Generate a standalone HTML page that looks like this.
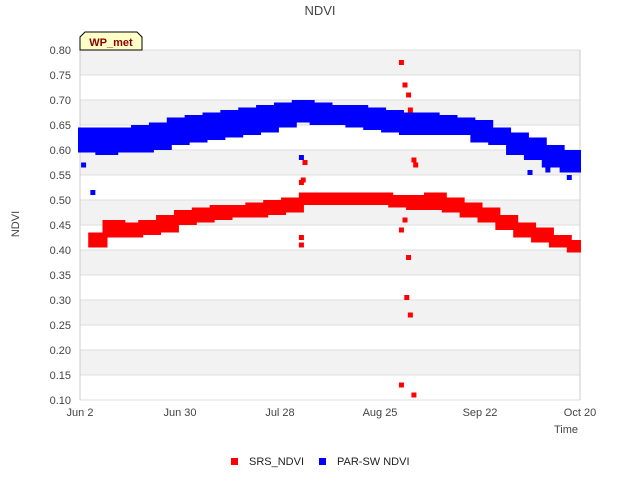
<!DOCTYPE html>
<html><head><meta charset="utf-8"><style>
body{margin:0;background:#fff;font-family:"Liberation Sans","DejaVu Sans",sans-serif}
</style></head><body>
<svg id="chart" width="640" height="480" xmlns="http://www.w3.org/2000/svg" font-family="Liberation Sans, DejaVu Sans, sans-serif">
<text x="320" y="15" text-anchor="middle" font-size="13" fill="#444">NDVI</text>
<g id="grid"></g>
<g id="marks"></g>
<g id="axes"></g>
<g>
<path d="M80,50 L80,37 L85,32 L137,32 L142,37 L142,50 Z" fill="#ffffc8" stroke="#000" stroke-width="1"/>
<text x="111" y="46" text-anchor="middle" font-size="11" font-weight="bold" fill="#8b0000">WP_met</text>
</g>
<text transform="translate(19,224) rotate(-90)" text-anchor="middle" font-size="11" fill="#444">NDVI</text>
<text x="578" y="433" text-anchor="end" font-size="11" fill="#444">Time</text>
<g><rect x="231" y="458" width="7" height="7" fill="#f00"/><text x="249" y="465" font-size="11" fill="#222">SRS_NDVI</text></g>
<g><rect x="319" y="458" width="7" height="7" fill="#00f"/><text x="337" y="465" font-size="11" fill="#222">PAR-SW NDVI</text></g>
</svg>
<script>
const yTicks=[0.10,0.15,0.20,0.25,0.30,0.35,0.40,0.45,0.50,0.55,0.60,0.65,0.70,0.75,0.80];
const xTickDays=[0,28,56,84,112,140];
const xTickLabels=["Jun 2","Jun 30","Jul 28","Aug 25","Sep 22","Oct 20"];
const redDays=[3,7,12,17,22,27,32,37,42,47,52,57,62,67,72,77,82,87,92,97,102,107,112,117,122,127,132,137];
const redLo=[.41,.43,.43,.435,.44,.455,.46,.465,.47,.47,.475,.48,.495,.495,.495,.495,.495,.49,.485,.485,.48,.47,.46,.445,.43,.42,.41,.40];
const redHi=[.43,.455,.45,.455,.465,.475,.48,.485,.485,.49,.495,.50,.51,.51,.51,.51,.51,.505,.505,.51,.50,.49,.48,.465,.45,.44,.425,.415];
const blueDays=[0,5,10,15,20,25,30,35,40,45,50,55,60,65,70,75,80,85,90,95,100,105,110,115,120,125,130,135];
const blueLo=[.60,.595,.60,.60,.605,.615,.62,.625,.63,.635,.64,.65,.66,.655,.655,.65,.645,.64,.635,.635,.635,.635,.62,.615,.595,.585,.57,.56];
const blueHi=[.64,.64,.64,.645,.65,.66,.665,.67,.675,.68,.685,.69,.695,.69,.685,.685,.68,.675,.67,.67,.665,.66,.655,.64,.63,.62,.605,.595];
const redOutDays=[62,62,62,62,62.5,63,90,90,90,91,91,91.5,92,92,92.5,92.5,93.5,93.5,94];
const redOutVals=[.41,.425,.51,.535,.54,.575,.775,.44,.13,.73,.46,.305,.71,.385,.27,.68,.11,.58,.57];
const blueOutDays=[1,3.6,62,126,131,137];
const blueOutVals=[.57,.515,.585,.555,.56,.545];
const X0=80,X1=580,Y0=400,Y1=50,D=140;
const x=d=>X0+(X1-X0)*d/D;
const y=v=>Y0-(Y0-Y1)*(v-0.10)/0.70;
const NS="http://www.w3.org/2000/svg";
function mk(tag,attrs,parent){const e=document.createElementNS(NS,tag);for(const k in attrs)e.setAttribute(k,attrs[k]);parent.appendChild(e);return e;}
const grid=document.getElementById('grid'),marks=document.getElementById('marks'),axes=document.getElementById('axes');
for(let i=0;i<yTicks.length-1;i++){
  if(i%2==1){const r=mk('rect',{x:X0,y:y(yTicks[i+1]),width:X1-X0,height:y(yTicks[i])-y(yTicks[i+1]),fill:'#f2f2f2'},grid);
  
  }
}
yTicks.forEach(v=>{
  const l=mk('line',{x1:X0,x2:X1,y1:y(v),y2:y(v),stroke:'#ddd'},grid);
  
  
  const t=mk('text',{x:X0-9,y:y(v)+4,'text-anchor':'end','font-size':'11',fill:'#444'},axes);
  t.textContent=v.toFixed(2);
  
  
});
mk('line',{x1:X0,x2:X0,y1:Y1,y2:Y0,stroke:'#ccc'},grid);
mk('line',{x1:X1,x2:X1,y1:Y1,y2:Y0,stroke:'#ccc'},grid);
xTickDays.forEach((d,i)=>{
  const t=mk('text',{x:x(d),y:Y0+16,'text-anchor':'middle','font-size':'11',fill:'#444'},axes);
  t.textContent=xTickLabels[i];
  
  
});
function band(days,lo,hi,color,name){
  days.forEach((d,i)=>{
    const nd=i<days.length-1?days[i+1]:D;
    const xa=Math.max(x(d)-2.5,X0-2),xb=Math.min(x(nd)+2.5,X1+1);
    const r=mk('rect',{x:xa,y:y(hi[i])-2.5,width:xb-xa,height:y(lo[i])-y(hi[i])+5,fill:color},marks);
    
    
  });
}
band(blueDays,blueLo,blueHi,'#00f','parsw-ndvi-points');
band(redDays,redLo,redHi,'#f00','srs-ndvi-points');
function pts(days,vals,color,name){
  days.forEach((d,i)=>{
    const r=mk('rect',{x:x(d)-2.5,y:y(vals[i])-2.5,width:5,height:5,fill:color},marks);
    
    
  });
}
pts(blueOutDays,blueOutVals,'#00f','parsw-ndvi-outlier');
pts(redOutDays,redOutVals,'#f00','srs-ndvi-outlier');
</script>
</body></html>
